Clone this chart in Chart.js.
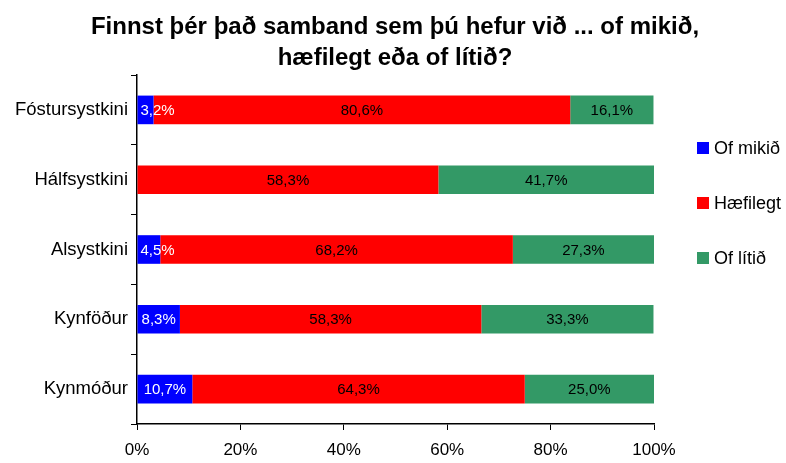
<!DOCTYPE html>
<html>
<head>
<meta charset="utf-8">
<script src="https://cdn.jsdelivr.net/npm/chart.js@4"></script>
<style>
  html, body { margin: 0; padding: 0; background: #fff; }
  #wrap { width: 786px; height: 463px; position: relative; }
</style>
</head>
<body>
<div id="wrap"><canvas id="chart"></canvas></div>
<script>
const categories = ['Fóstursystkini', 'Hálfsystkini', 'Alsystkini', 'Kynföður', 'Kynmóður'];
const ofMikid = [3.2, 0, 4.5, 8.3, 10.7];
const haefilegt = [80.6, 58.3, 68.2, 58.3, 64.3];
const ofLitid = [16.1, 41.7, 27.3, 33.3, 25.0];
const seriesNames = ['Of mikið', 'Hæfilegt', 'Of lítið'];
const titleLines = ['Finnst þér það samband sem þú hefur við ... of mikið,', 'hæfilegt eða of lítið?'];

const FONT = "'Liberation Sans', Arial, sans-serif";

// values inside the bars, comma as decimal sign
const barLabels = {
  id: 'barLabels',
  afterDatasetsDraw(chart) {
    const ctx = chart.ctx;
    ctx.save();
    ctx.font = '15px ' + FONT;
    ctx.textAlign = 'center';
    ctx.textBaseline = 'middle';
    chart.data.datasets.forEach((ds, i) => {
      chart.getDatasetMeta(i).data.forEach((bar, j) => {
        const v = ds.data[j];
        if (!v) return;
        const txt = v.toFixed(1).replace('.', ',') + '%';
        const w = ctx.measureText(txt).width;
        // small bars: text starts just after the bar start
        const x = Math.max((bar.x + bar.base) / 2, bar.base + 3 + w / 2);
        ctx.fillStyle = i === 0 ? '#fff' : '#000';
        ctx.fillText(txt, x, bar.y + 1);
      });
    });
    ctx.restore();
  }
};

// title (centred on the whole picture, not only the plot) and legend at the right
const decorations = {
  id: 'decorations',
  afterDraw(chart) {
    const ctx = chart.ctx;
    ctx.save();
    ctx.fillStyle = '#000';
    ctx.textAlign = 'center';
    ctx.textBaseline = 'middle';
    ctx.font = 'bold 24px ' + FONT;
    titleLines.forEach((t, i) => ctx.fillText(t, 395, 27 + i * 31));

    ctx.textAlign = 'left';
    ctx.font = '18px ' + FONT;
    chart.data.datasets.forEach((ds, i) => {
      const y = 148 + i * 55;
      ctx.fillStyle = ds.backgroundColor;
      ctx.fillRect(697, y - 6, 12, 12);
      ctx.fillStyle = '#000';
      ctx.fillText(ds.label, 714, y + 1);
    });
    ctx.restore();
  }
};

new Chart(document.getElementById('chart'), {
  type: 'bar',
  data: {
    labels: categories,
    datasets: [
      { label: seriesNames[0], data: ofMikid, backgroundColor: '#0000ff' },
      { label: seriesNames[1], data: haefilegt, backgroundColor: '#ff0000' },
      { label: seriesNames[2], data: ofLitid, backgroundColor: '#339966' }
    ]
  },
  plugins: [barLabels, decorations],
  options: {
    indexAxis: 'y',
    responsive: true,
    maintainAspectRatio: false,
    animation: false,
    datasets: { bar: { barPercentage: 0.41, categoryPercentage: 1 } },
    layout: { padding: { left: 0, right: 132, top: 75, bottom: 0 } },
    plugins: {
      legend: { display: false },
      tooltip: { enabled: false },
      title: { display: false }
    },
    scales: {
      x: {
        stacked: true,
        min: 0,
        max: 100,
        ticks: {
          stepSize: 20,
          color: '#000',
          padding: 10,
          font: { family: FONT, size: 17 },
          callback: v => v + '%'
        },
        grid: { drawOnChartArea: false, tickLength: 6, color: '#000' },
        border: { color: '#000', width: 1.5 },
        afterFit: s => { s.height = 39; }
      },
      y: {
        stacked: true,
        ticks: { color: '#000', padding: 3, font: { family: FONT, size: 18.5 } },
        grid: { drawOnChartArea: false, offset: true, tickLength: 6, color: '#000' },
        border: { color: '#000', width: 1.5 },
        afterFit: s => { s.width = 137; }
      }
    }
  }
});
</script>
</body>
</html>
